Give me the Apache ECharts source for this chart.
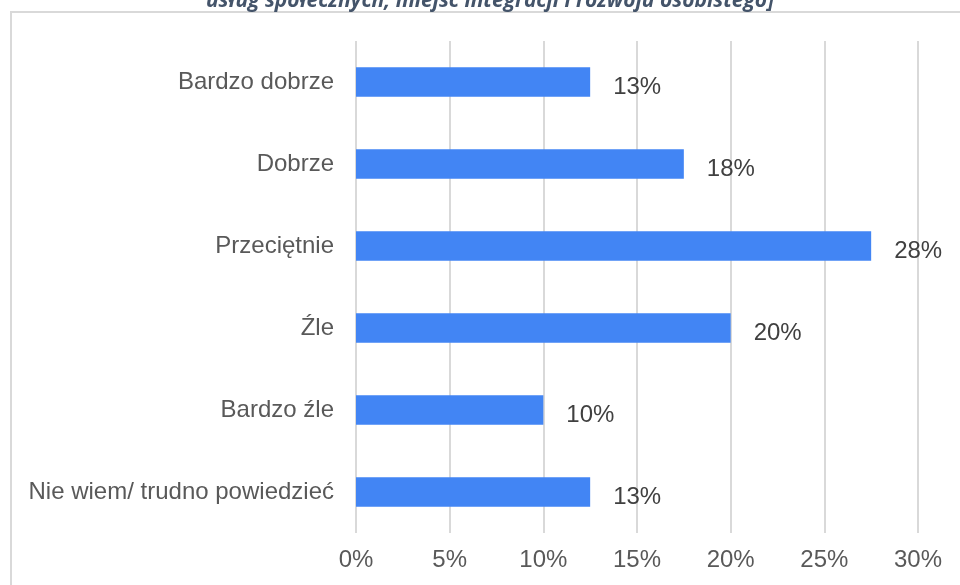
<!DOCTYPE html>
<html>
<head>
<meta charset="utf-8">
<script src="https://cdn.jsdelivr.net/npm/echarts@6/dist/echarts.min.js"></script>
<style>
  html, body { margin: 0; padding: 0; background: #fff; }
  #chart { width: 960px; height: 585px; }
</style>
</head>
<body>
<div id="chart"></div>
<script>
var categories = ['Bardzo dobrze', 'Dobrze', 'Przeciętnie', 'Źle', 'Bardzo źle', 'Nie wiem/ trudno powiedzieć'];
var shares = [12.5, 17.5, 27.5, 20, 10, 12.5];
var shareLabels = ['13%', '18%', '28%', '20%', '10%', '13%'];
var titleText = 'usług społecznych, miejsc integracji i rozwoju osobistego]';

var chart = echarts.init(document.getElementById('chart'));

var option = {
  animation: false,
  graphic: [
    {
      type: 'rect',
      shape: { x: 11, y: 12, width: 1000, height: 1000 },
      style: { fill: 'none', stroke: '#d9d9d9', lineWidth: 2 }
    },
    {
      type: 'text',
      x: 490,
      y: 12,
      style: {
        text: titleText,
        font: 'italic bold 21px "Open Sans"',
        fill: '#44546a',
        align: 'center',
        verticalAlign: 'bottom'
      }
    }
  ],
  grid: { left: 356, right: 42, top: 41, bottom: 52 },
  xAxis: {
    type: 'value',
    min: 0,
    max: 30,
    interval: 5,
    axisLine: { show: false },
    axisTick: { show: false },
    axisLabel: {
      formatter: '{value}%',
      color: '#595959',
      fontFamily: 'Liberation Sans',
      fontSize: 24,
      margin: 15
    },
    splitLine: { lineStyle: { color: '#d9d9d9', width: 2 } }
  },
  yAxis: {
    type: 'category',
    inverse: true,
    data: categories,
    axisLine: { show: false },
    axisTick: { show: false },
    axisLabel: {
      color: '#595959',
      fontFamily: 'Liberation Sans',
      fontSize: 24,
      margin: 22
    }
  },
  series: [{
    type: 'bar',
    data: shares,
    barCategoryGap: '64%',
    itemStyle: { color: '#4285f4' },
    label: {
      show: true,
      position: 'right',
      distance: 23,
      offset: [0, 5],
      color: '#404040',
      fontFamily: 'Liberation Sans',
      fontSize: 24,
      formatter: function (p) { return shareLabels[p.dataIndex]; }
    }
  }]
};

chart.setOption(option);
</script>
</body>
</html>
